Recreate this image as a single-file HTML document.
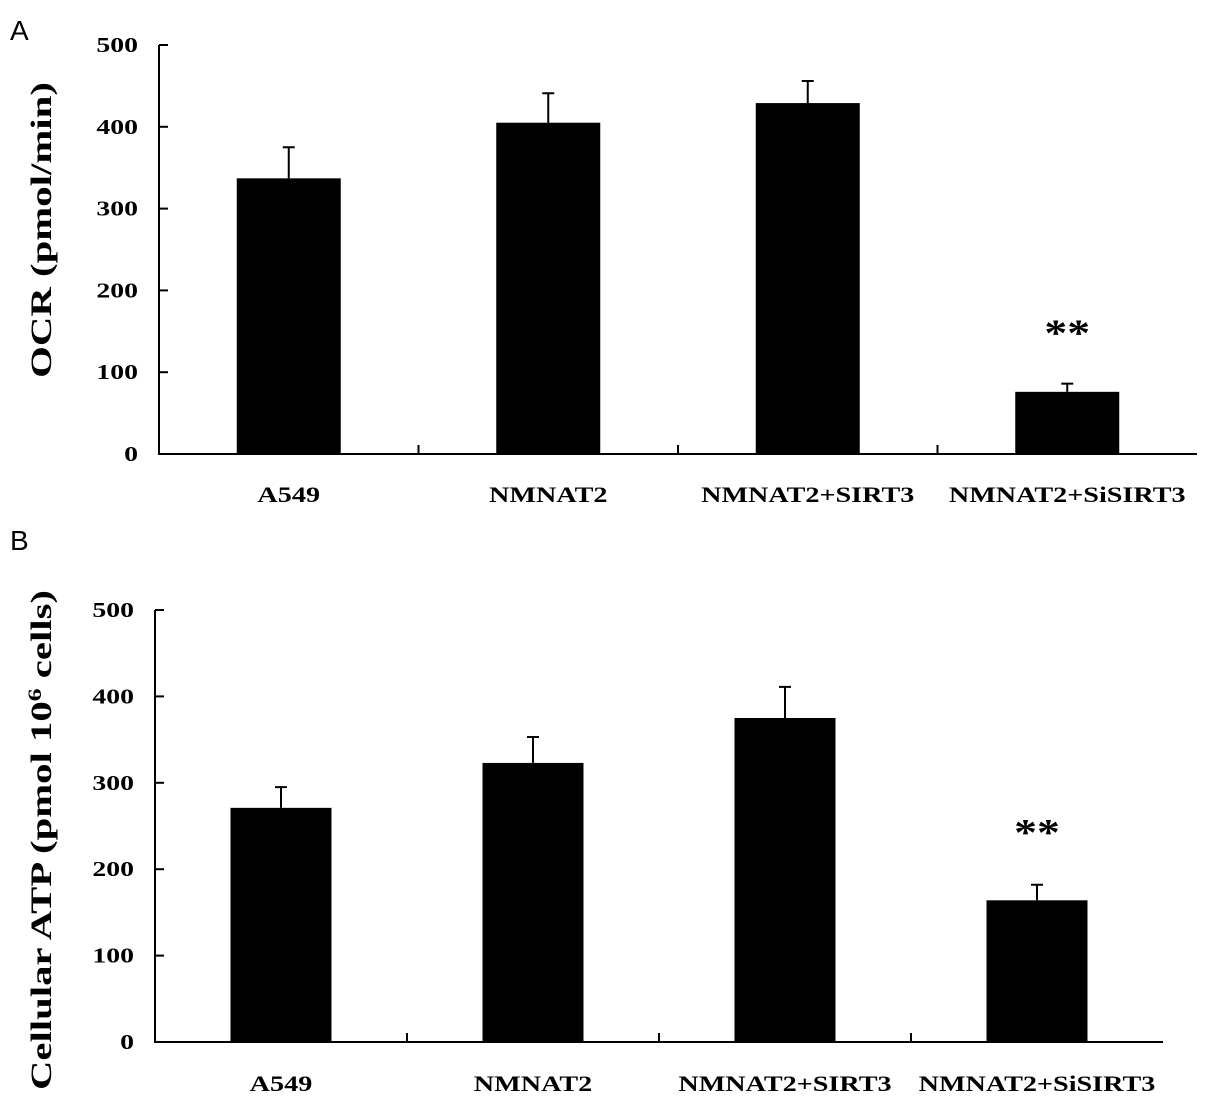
<!DOCTYPE html>
<html><head><meta charset="utf-8"><style>
html,body{margin:0;padding:0;background:#fff;}
svg{display:block;font-family:"Liberation Serif",serif;}
</style></head><body>
<svg id="fig" width="1205" height="1103" viewBox="0 0 1205 1103">
<text x="10" y="40" font-family="Liberation Sans, sans-serif" font-size="28">A</text>
<text x="10" y="550" font-family="Liberation Sans, sans-serif" font-size="28">B</text>
</svg>
<script>
const categories = ["A549","NMNAT2","NMNAT2+SIRT3","NMNAT2+SiSIRT3"];
const ocrValues = [337,405,429,76];
const ocrErrors = [38,36,27,10];
const atpValues = [271,323,375,164];
const atpErrors = [24,30,36,18];
const yTicks = [0,100,200,300,400,500];
const sigLabels = ["","","","**"];

const NS="http://www.w3.org/2000/svg";
const svg=document.getElementById('fig');
function mk(tag,attrs,parent){const e=document.createElementNS(NS,tag);for(const k in attrs)e.setAttribute(k,attrs[k]);(parent||svg).appendChild(e);return e;}
function stretch(t,f){const L=t.getComputedTextLength();t.setAttribute('textLength',(L*f).toFixed(1));t.setAttribute('lengthAdjust','spacingAndGlyphs');}

function panel(cfg,values,errors,name){
  const g=mk('g',{});
  
  
  const x0=cfg.x0,x1=cfg.x1,yb=cfg.yb,yt=cfg.yt;
  const y=v=>yb-(v/500)*(yb-yt);
  const bw=(x1-x0)/categories.length;
  const xc=i=>x0+bw*(i+0.5);
  const ax=mk('path',{d:`M${x0},${yt} L${x0},${yb} L${x1},${yb}`,stroke:'#000','stroke-width':2,fill:'none'},g);
  
  
  yTicks.forEach(t=>{
    const l=mk('line',{x1:x0,x2:x0+9,y1:y(t),y2:y(t),stroke:'#000','stroke-width':2},g);
    
    
    const tx=mk('text',{x:x0-21,y:y(t)+7,'text-anchor':'end','font-size':21,'font-weight':'bold'},g);
    tx.textContent=t;
    
    
    stretch(tx,1.32);
  });
  for(let i=1;i<categories.length;i++){
    const l=mk('line',{x1:x0+bw*i,x2:x0+bw*i,y1:yb,y2:yb-9,stroke:'#000','stroke-width':2},g);
    
    
  }
  values.forEach((v,i)=>{
    const w=cfg.barW;
    const eb=mk('line',{x1:xc(i),x2:xc(i),y1:y(v),y2:y(v+errors[i]),stroke:'#000','stroke-width':2},g);
    
    
    const cap=mk('line',{x1:xc(i)-6,x2:xc(i)+6,y1:y(v+errors[i]),y2:y(v+errors[i]),stroke:'#000','stroke-width':2},g);
    
    
    const r=mk('rect',{x:xc(i)-w/2,y:y(v),width:w,height:yb-y(v),fill:'#000'},g);
    
    
    const lab=mk('text',{x:xc(i),y:cfg.labY,'text-anchor':'middle','font-size':22,'font-weight':'bold'},g);
    lab.textContent=categories[i];
    
    
    stretch(lab,1.28);
    if(sigLabels[i]){
      const s=mk('text',{x:xc(i),y:y(v+errors[i])-cfg.sigOff,'text-anchor':'middle','font-size':38,'font-weight':'bold'},g);
      s.textContent=sigLabels[i];
      
      
      stretch(s,1.2);
    }
  });
  const yt2=mk('text',{transform:`translate(${cfg.titleX},${cfg.titleY}) rotate(-90)`,'text-anchor':'middle','font-size':30,'font-weight':'bold'},g);
  
  
  return yt2;
}
const t1=panel({x0:159,x1:1197,yb:454,yt:45,barW:104,labY:502,titleX:51,titleY:230,sigOff:38},ocrValues,ocrErrors,'panel-a-ocr-chart');
t1.textContent='OCR (pmol/min)';
stretch(t1,1.36);
const t2=panel({x0:155,x1:1163,yb:1042,yt:610,barW:101,labY:1091,titleX:51,titleY:840,sigOff:40},atpValues,atpErrors,'panel-b-atp-chart');
t2.innerHTML='Cellular ATP (pmol 10<tspan baseline-shift="super" font-size="19">6</tspan> cells)';
t2.setAttribute('textLength','500');
t2.setAttribute('lengthAdjust','spacingAndGlyphs');
</script>
</body></html>
